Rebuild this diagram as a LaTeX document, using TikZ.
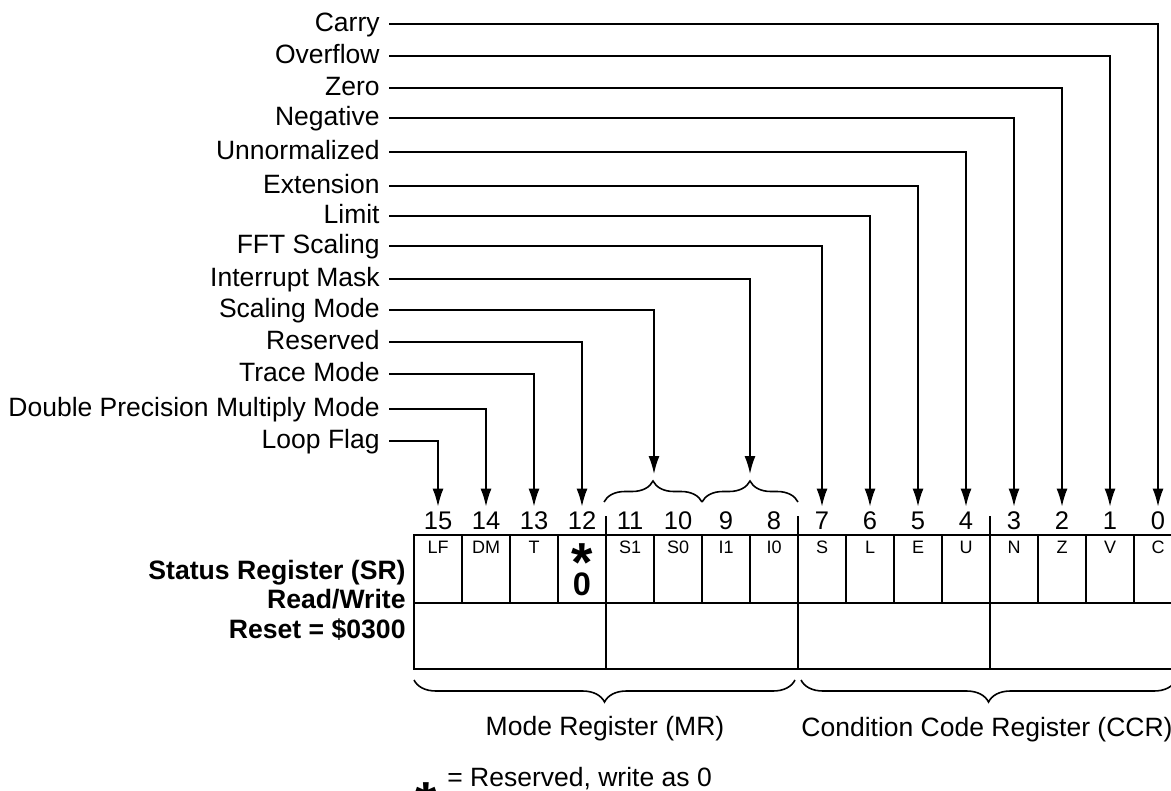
\documentclass[tikz,border=0pt]{standalone}
\usepackage{fontspec}
\setmainfont{Liberation Sans}
\usepackage{tikz}
\usetikzlibrary{
  arrows.meta,
  calc,
  decorations.pathreplacing
}
\tikzset{
  % Asosiy chiziqlar
  regline/.style  = {line width=0.8pt, draw=black},
  sigarrow/.style = {line width=0.8pt, -{Latex[length=9pt,width=5.5pt]}},
  % Qavslar
  bracetop/.style = {line width=0.8pt, decorate, decoration={brace, amplitude=10.5pt}},
  bracebot/.style = {line width=0.8pt, decorate, decoration={brace, mirror, amplitude=11pt}},
  % Etiketlar
  siglab/.style   = {anchor=east, font=\fontsize{13.25}{15}\selectfont,
                     text height=0.72em, text depth=0pt, inner xsep=4.5pt, inner ysep=0pt},
  bitnum/.style   = {anchor=base, font=\fontsize{12.75}{14}\selectfont,
                     text height=0.72em, text depth=0pt, inner sep=3.8pt},
  fieldlab/.style = {anchor=base, font=\fontsize{9}{10}\selectfont, inner sep=0pt},
  reglab/.style   = {anchor=base east, font=\bfseries\fontsize{13.3}{15}\selectfont, inner sep=0pt},
  grplab/.style   = {anchor=base, font=\fontsize{13.25}{15}\selectfont, inner sep=0pt},
  resstar/.style  = {anchor=base, font=\bfseries\fontsize{27.5}{30}\selectfont, inner sep=0pt,
                     text height=0.72em, text depth=-0.4em},
}

\begin{document}
\begin{tikzpicture}[x=0.5pt, y=-0.5pt]
  % Rasm chegarasi (piksel birliklarida)
  \useasboundingbox (0,0) rectangle (1171,791);
  % Registr qutisi
  \draw[regline] (414,535) rectangle (1182,669);
  \draw[regline] (414,603) -- (1182,603);
  \foreach \i in {1,...,15}
    \draw[regline] ({414+48*\i},535) -- ({414+48*\i},603);
  \foreach \xx in {606,798,990}
    \draw[regline] (\xx,516) -- (\xx,669);
  % Bit raqamlari
  \foreach \bit in {0,...,15}
    \node[bitnum] (b\bit) at ({438+48*(15-\bit)},529) {\bit};
  % Maydon nomlari
  \foreach \bit/\fld in {15/LF,14/DM,13/T,11/S1,10/S0,9/I1,8/I0,
                         7/S,6/L,5/E,4/U,3/N,2/Z,1/V,0/C}
    \node[fieldlab] (f\bit) at ({438+48*(15-\bit)},553) {\fld};
  \node[resstar] (rstar) at (582,581) {*};
  \node[anchor=base, inner sep=0pt, font=\bfseries\fontsize{16.25}{18}\selectfont]
    (rzero) at (582,595) {0};
  % Yuqori qavslar
  \draw[bracetop] (604,502) -- (702,502);
  \draw[bracetop] (702,502) -- (798,502);
  \coordinate (smtip) at (654,474);
  \coordinate (imtip) at (750,474);
  % Etiketlar va strelkalar
  \foreach \nm/\txt/\yy/\tgt in {
      carry/Carry/24/b0.north,
      ovf/Overflow/56/b1.north,
      zero/Zero/88/b2.north,
      neg/Negative/118/b3.north,
      unn/Unnormalized/152/b4.north,
      ext/Extension/186/b5.north,
      lim/Limit/216/b6.north,
      fft/FFT Scaling/246/b7.north,
      imask/Interrupt Mask/279/imtip,
      smode/Scaling Mode/310/smtip,
      resv/Reserved/342/b12.north,
      trace/Trace Mode/374/b13.north,
      dpm/Double Precision Multiply Mode/409/b14.north,
      loop/Loop Flag/441/b15.north}{
    \node[siglab] (lab-\nm) at (389,\yy) {\txt};
    \draw[sigarrow] (lab-\nm.east) -| (\tgt);
  }
  % Registr nomi
  \node[reglab] (srname) at (406,579) {Status Register (SR)};
  \node[reglab] (srrw)   at (406,608) {Read/Write};
  \node[reglab] (srrst)  at (406,638) {Reset = \$0300};
  % Pastki qavslar
  \draw[bracebot] (414,680) -- (795,680);
  \draw[bracebot] (801,680) -- (1176,680);
  \node[grplab] (mrlab)  at (605,735) {Mode Register (MR)};
  \node[grplab] (ccrlab) at (987,736) {Condition Code Register (CCR)};
  % Izoh
  \node[resstar] (nstar) at (426,820) {*};
  \node[anchor=base west, inner sep=0pt, font=\fontsize{13.25}{15}\selectfont]
    (note) at (447,786) {= Reserved, write as 0};
\end{tikzpicture}
\end{document}
